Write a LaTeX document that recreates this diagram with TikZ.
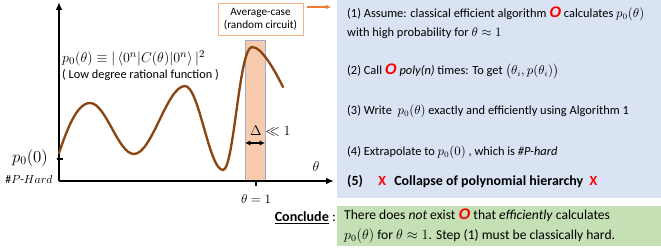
\documentclass[tikz,border=0pt]{standalone}
\usepackage{amsmath,amssymb}
\usepackage{fontspec}
\setmainfont{Carlito}
\newfontfamily\arialfont{Liberation Sans}
\usetikzlibrary{arrows.meta,positioning}
\definecolor{curvebrown}{RGB}{139,69,19}
\definecolor{barorange}{RGB}{248,203,173}
\definecolor{barblue}{RGB}{160,170,205}
\definecolor{boxorange}{RGB}{244,177,131}
\definecolor{arroworange}{RGB}{237,125,49}
\definecolor{stepblue}{RGB}{218,227,243}
\definecolor{concgreen}{RGB}{197,224,180}
\newcommand{\oracleO}{{\arialfont\fontsize{13}{12}\selectfont\bfseries\itshape\textcolor{red}{O}}}
\newcommand{\redX}{{\bfseries\textcolor{red}{X}}}

\begin{document}
\begin{tikzpicture}[x=0.03cm,y=0.03cm]
\tikzset{
  axisline/.style={draw=black,line width=1.5pt,-{Latex[length=2.4mm,width=2mm]}},
  tickline/.style={draw=black,line width=1.3pt},
  steptext/.style={anchor=west,inner sep=0pt,font=\fontsize{10.6}{16}\selectfont,align=left}
}
\useasboundingbox (0,0) rectangle (661,249);
\fill[stepblue] (337,249) rectangle (661,51);
\fill[concgreen] (337,43) rectangle (661,3);
\draw[fill=barorange,draw=barblue,line width=0.8pt] (245,69) rectangle (265,209);
\coordinate (o) at (59,68);
\coordinate (yend) at (59,247);
\coordinate (xend) at (334,68);
\draw[axisline] (o) -- (yend);
\draw[axisline] (o) -- (xend);
\coordinate (t1a) at (256,68);
\coordinate (t1b) at (256,63);
\draw[tickline] (t1a) -- (t1b);
\coordinate (t0a) at (57,90);
\coordinate (t0b) at (63,90);
\draw[tickline] (t0a) -- (t0b);
\draw[curvebrown,line width=2pt,line cap=round]
  (59,96) .. controls (66,116) and (76,146) .. (90,146)
  .. controls (106,146) and (118,95) .. (134,95)
  .. controls (152,95) and (167,163) .. (185,163)
  .. controls (199,163) and (209,79) .. (223,79)
  .. controls (234,79) and (239,202) .. (252,202)
  .. controls (262,202) and (275,178) .. (283,162);
\coordinate (dl) at (245,106);
\coordinate (dr) at (265,106);
\draw[line width=1pt,{Latex[length=1.6mm,width=1.6mm]}-{Latex[length=1.6mm,width=1.6mm]}] (dl) -- (dr);
\node[anchor=west,inner sep=0pt,font=\fontsize{13}{13}\selectfont] (n_delta) at (250,118) {$\Delta \ll 1$};
\node[font=\fontsize{13}{13}\selectfont] (n_theta) at (316,82) {$\theta$};
\node[font=\fontsize{11}{11}\selectfont] (n_thetaone) at (256,50) {$\theta = 1$};
\node[font=\fontsize{14}{14}\selectfont] (n_pzero) at (30,91) {$p_0(0)$};
\node[font=\fontsize{10}{10}\selectfont] (n_hard) at (29,70) {$\#P\text{-}Hard$};
\node[anchor=west,inner sep=0pt,font=\fontsize{13}{13}\selectfont] (n_formula) at (62,191)
  {$p_0(\theta) \equiv |\,\langle 0^n|C(\theta)|0^n\rangle\,|^2$};
\node[anchor=west,inner sep=0pt,font=\fontsize{10.5}{10.5}\selectfont] (n_lowdeg) at (62,174)
  {( Low degree rational function )};
\node[draw=boxorange,line width=0.8pt,fill=white,minimum width=2.55cm,minimum height=0.96cm,
  inner sep=1pt,align=center,font=\fontsize{9.6}{11.5}\selectfont] (n_avg) at (260.5,230)
  {Average-case\\(random circuit)};
\coordinate (avgfrom) at (307,242);
\coordinate (avgto) at (331,242);
\draw[arroworange,line width=1pt,-{Latex[length=1.5mm,width=1.4mm]}] (avgfrom) -- (avgto);
\node[steptext] (n_step1) at (347,226)
  {(1) Assume: classical efficient algorithm \oracleO\ calculates $p_0(\theta)$\\
   with high probability for $\theta \approx 1$};
\node[steptext] (n_step2) at (347,178)
  {(2) Call \oracleO\ \textit{poly(n)} times: To get $\big(\theta_i, p(\theta_i)\big)$};
\node[steptext] (n_step3) at (347,138)
  {(3) Write \ $p_0(\theta)$ exactly and efficiently using Algorithm 1};
\node[steptext] (n_step4) at (347,97)
  {(4) Extrapolate to $p_0(0)$ , which is \textit{\#P-hard}};
\node[steptext,font=\fontsize{11.9}{12}\selectfont] (n_step5) at (347,68)
  {\textbf{(5)}\hspace{1.1em}\redX\hspace{0.6em}\textbf{Collapse of polynomial hierarchy}\hspace{0.45em}\redX};
\node[anchor=east,inner sep=0pt,font=\fontsize{12}{12}\selectfont] (n_conclude) at (336,31)
  {\underline{\textbf{Conclude}} :};
\node[steptext,font=\fontsize{11.6}{17}\selectfont] (n_conc) at (344,23)
  {There does \textit{not} exist \oracleO\ that \textit{efficiently} calculates\\
   $p_0(\theta)$ for $\theta \approx 1$. Step (1) must be classically hard.};
\end{tikzpicture}
\end{document}
